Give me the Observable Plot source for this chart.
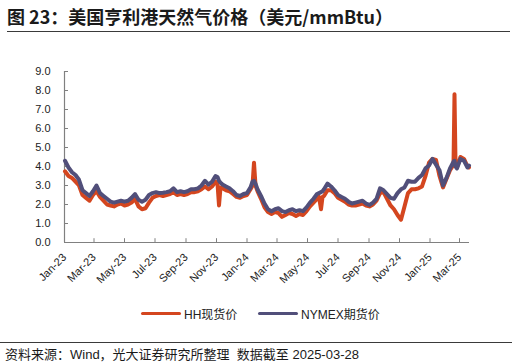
<!DOCTYPE html>
<html>
<head>
<meta charset="utf-8">
<script src="https://cdn.jsdelivr.net/npm/d3@7"></script>
<script src="https://cdn.jsdelivr.net/npm/@observablehq/plot@0.6"></script>
<style>
  html, body { margin: 0; padding: 0; background: #fff; }
  #wrap { position: relative; width: 516px; height: 364px; overflow: hidden; background: #fff; }
  #title { position: absolute; left: 7px; top: 3px; font-family: "Noto Sans CJK SC", sans-serif; font-weight: bold; font-size: 18px; color: #1a1a1a; white-space: nowrap; }
  #tline { position: absolute; left: 7px; top: 31px; width: 503px; height: 0; border-top: 1px solid #3a3a3a; }
  #chart { position: absolute; left: 0; top: 40px; }
  .leg { position: absolute; top: 305px; font-family: "Liberation Sans", "Noto Sans CJK SC", sans-serif; font-size: 12px; color: #222; white-space: nowrap; display: flex; align-items: center; }
  .sw { display: inline-block; width: 40px; height: 3px; border-radius: 2px; margin-right: 3px; }
  #fline { position: absolute; left: 0; top: 342px; width: 512px; border-top: 1px solid #3a3a3a; }
  #foot { position: absolute; left: 5px; top: 344px; font-family: "Liberation Sans", "Noto Sans CJK SC", sans-serif; font-size: 13px; color: #1a1a1a; white-space: nowrap; }
</style>
</head>
<body>
<div id="wrap">
  <div id="title">图 23：美国亨利港天然气价格（美元/mmBtu）</div>
  <div id="tline"></div>
  <div id="chart"></div>
  <div id="legend"></div>
  <div id="fline"></div>
  <div id="foot">资料来源：Wind，光大证券研究所整理&nbsp; 数据截至 2025-03-28</div>
</div>
<script>
const dates = [
"2023-01-02","2023-01-09","2023-01-16","2023-01-23","2023-01-30","2023-02-06","2023-02-13","2023-02-20","2023-02-27","2023-03-06",
"2023-03-13","2023-03-20","2023-03-27","2023-04-03","2023-04-10","2023-04-17","2023-04-24","2023-05-01","2023-05-08","2023-05-15",
"2023-05-22","2023-05-29","2023-06-05","2023-06-12","2023-06-19","2023-06-26","2023-07-03","2023-07-10","2023-07-17","2023-07-24",
"2023-07-31","2023-08-07","2023-08-14","2023-08-21","2023-08-28","2023-09-04","2023-09-11","2023-09-18","2023-09-25","2023-10-02",
"2023-10-09","2023-10-16","2023-10-23","2023-10-30","2023-11-03","2023-11-06","2023-11-09","2023-11-13","2023-11-20","2023-11-27",
"2023-12-04","2023-12-11","2023-12-18","2023-12-25","2024-01-01","2024-01-08","2024-01-12","2024-01-15","2024-01-18","2024-01-22",
"2024-01-29","2024-02-05","2024-02-12","2024-02-19","2024-02-26","2024-03-04","2024-03-11","2024-03-18","2024-03-25","2024-04-01",
"2024-04-08","2024-04-15","2024-04-22","2024-04-29","2024-05-06","2024-05-13","2024-05-20","2024-05-24","2024-05-28","2024-05-31",
"2024-06-03","2024-06-10","2024-06-17","2024-06-24","2024-07-01","2024-07-08","2024-07-15","2024-07-22","2024-07-29","2024-08-05",
"2024-08-12","2024-08-19","2024-08-26","2024-09-02","2024-09-09","2024-09-16","2024-09-23","2024-09-30","2024-10-07","2024-10-14",
"2024-10-21","2024-10-28","2024-11-04","2024-11-11","2024-11-18","2024-11-25","2024-12-02","2024-12-09","2024-12-16","2024-12-23",
"2024-12-30","2025-01-06","2025-01-13","2025-01-20","2025-01-27","2025-02-03","2025-02-10","2025-02-17","2025-02-19","2025-02-21",
"2025-02-24","2025-03-03","2025-03-10","2025-03-17","2025-03-20"
];
const hh = [
3.75,3.50,3.40,3.20,3.00,2.50,2.35,2.20,2.50,2.70,
2.40,2.20,2.00,1.95,1.90,2.00,2.05,1.95,2.00,2.10,
2.30,1.90,1.75,1.80,2.10,2.35,2.45,2.50,2.45,2.50,
2.55,2.65,2.50,2.55,2.50,2.55,2.65,2.65,2.70,2.80,
2.95,2.80,2.95,3.20,3.10,1.95,2.90,2.85,2.75,2.70,
2.55,2.40,2.35,2.45,2.50,2.80,3.00,4.20,3.00,2.70,
2.30,1.85,1.60,1.50,1.60,1.55,1.35,1.45,1.55,1.50,
1.40,1.50,1.45,1.65,1.90,2.10,2.30,2.40,1.75,2.40,
2.45,2.75,2.75,2.60,2.35,2.25,2.15,2.00,1.95,1.95,
2.00,2.05,1.95,1.90,2.00,2.20,2.60,2.65,2.30,1.95,
1.75,1.45,1.20,1.90,2.60,2.80,2.80,2.85,2.95,3.50,
4.20,4.40,4.35,3.50,2.90,3.35,3.80,4.10,7.80,4.20,
3.95,4.50,4.40,4.00,3.95
];
const nymex = [
4.30,3.95,3.70,3.55,3.30,2.75,2.60,2.45,2.70,3.00,
2.60,2.45,2.30,2.15,2.10,2.15,2.20,2.15,2.20,2.35,
2.55,2.25,2.15,2.25,2.50,2.60,2.65,2.60,2.62,2.65,
2.70,2.85,2.65,2.70,2.65,2.70,2.80,2.80,2.85,3.00,
3.25,3.05,3.20,3.50,3.45,3.25,3.15,3.05,2.95,2.85,
2.70,2.50,2.45,2.55,2.60,2.90,3.20,3.25,3.10,2.80,
2.45,2.05,1.75,1.65,1.75,1.80,1.65,1.60,1.70,1.75,
1.65,1.70,1.65,1.85,2.10,2.30,2.55,2.60,2.65,2.70,
2.80,3.10,2.95,2.75,2.50,2.40,2.30,2.15,2.05,2.10,
2.15,2.20,2.05,1.98,2.10,2.30,2.85,2.75,2.55,2.35,
2.30,2.60,2.80,2.90,3.25,3.20,3.20,3.40,3.55,3.90,
4.05,4.40,4.10,3.80,3.00,3.40,3.90,4.25,4.30,4.00,
3.90,4.40,4.30,3.95,4.05
];
const yTicks = [0,1,2,3,4,5,6,7,8,9];
const xTicks = ["2023-01-01","2023-03-01","2023-05-01","2023-07-01","2023-09-01","2023-11-01",
  "2024-01-01","2024-03-01","2024-05-01","2024-07-01","2024-09-01","2024-11-01","2025-01-01","2025-03-01"];
const seriesNames = ["HH现货价", "NYMEX期货价"];
const colors = ["#D4461F", "#514F7A"];

const parse = d3.utcParse("%Y-%m-%d");
const rows = dates.map((d, i) => ({date: parse(d), hh: hh[i], nymex: nymex[i]}));
const xt = xTicks.map(parse);
const xStart = parse("2023-01-01");
const xEnd = parse("2025-03-21");
const xTickEnd = parse("2023-01-09");
const fmt = d3.utcFormat("%b-%y");
const axisColor = "#808080";

const chart = Plot.plot({
  width: 516,
  height: 250,
  marginLeft: 64,
  marginRight: 47,
  marginTop: 31,
  marginBottom: 48,
  style: {fontFamily: "Liberation Sans, Arial, sans-serif", fontSize: "11px", color: "#222", background: "#fff"},
  x: {type: "utc", domain: [xStart, xEnd], axis: null},
  y: {domain: [0, 9], axis: null},
  marks: [
    Plot.ruleY([0], {x1: xStart, x2: xEnd, stroke: axisColor, strokeWidth: 1.2}),
    Plot.ruleX([xStart], {y1: 0, y2: 9, stroke: axisColor, strokeWidth: 1.2}),
    Plot.ruleY(yTicks, {y: d => d, x1: xStart, x2: xTickEnd, stroke: axisColor}),
    Plot.ruleX(xt, {x: d => d, y1: 0, y2: 0.2, stroke: axisColor}),
    Plot.text(yTicks, {x: xStart, y: d => d, text: d => d.toFixed(1), textAnchor: "end", dx: -14, fill: "#222"}),
    Plot.text(xt, {x: d => d, y: 0, text: d => fmt(d), rotate: -45, textAnchor: "end", dx: 0, dy: 13, fill: "#222"}),
    Plot.lineY(rows, {x: "date", y: "hh", stroke: colors[0], strokeWidth: 4, strokeLinejoin: "round", strokeLinecap: "round"}),
    Plot.lineY(rows, {x: "date", y: "nymex", stroke: colors[1], strokeWidth: 4, strokeLinejoin: "round", strokeLinecap: "round"})
  ]
});
document.getElementById("chart").appendChild(chart);

const legend = document.getElementById("legend");
const legLefts = [141, 258];
seriesNames.forEach((name, i) => {
  const el = document.createElement("div");
  el.className = "leg";
  el.style.left = legLefts[i] + "px";
  el.innerHTML = `<span class="sw" style="background:${colors[i]}"></span><span>${name}</span>`;
  legend.appendChild(el);
});
</script>
</body>
</html>
